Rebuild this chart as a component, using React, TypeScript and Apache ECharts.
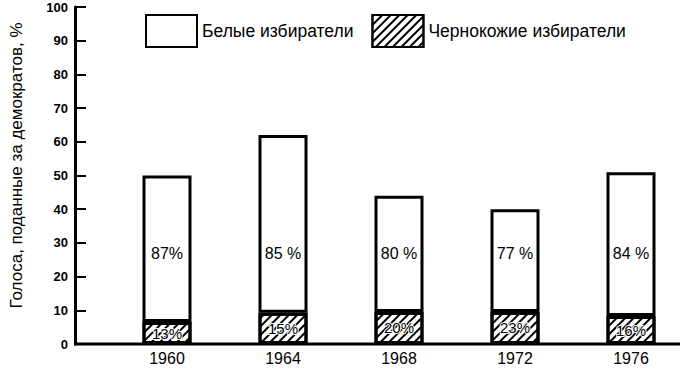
import React, { useEffect, useRef } from "react";
import * as echarts from "echarts";

const years = ["1960", "1964", "1968", "1972", "1976"];
const blackVotes = [6.5, 9.3, 9.5, 9.5, 8.3];
const whiteVotes = [43.5, 52.7, 34.5, 30.5, 42.7];
const whiteShare = ["87%", "85 %", "80 %", "77 %", "84 %"];
const blackShare = ["13%", "15%", "20%", "23%", "16%"];
const whiteLabelLevel = [27, 27, 27, 27, 27];
const seriesNames = ["Белые избиратели", "Чернокожие избиратели"];
const yAxisTitle = "Голоса, поданные за демократов, %";

const FONT = "Liberation Sans, Arial, sans-serif";

export default function App() {
  const ref = useRef<HTMLDivElement>(null);
  useEffect(() => {
    document.body.style.margin = "0";
    const chart = echarts.init(ref.current!, null, { renderer: "svg" });
    chart.setOption({
      animation: false,
      backgroundColor: "#fff",
      textStyle: { fontFamily: FONT, color: "#000" },
      grid: { left: 109, right: 0, top: 7, bottom: 29 },
      legend: {
        data: seriesNames,
        left: 140,
        top: 9,
        icon: "rect",
        itemWidth: 51,
        itemHeight: 32,
        itemGap: 18,
        textStyle: { fontSize: 17.5, color: "#000", fontFamily: FONT },
        selectedMode: false,
      },
      xAxis: {
        type: "category",
        data: years,
        axisLine: { show: false },
        axisTick: { show: false },
        axisLabel: { fontSize: 16, color: "#000", margin: 6, fontFamily: FONT },
      },
      yAxis: {
        type: "value",
        min: 0,
        max: 100,
        interval: 10,
        offset: 34,
        name: yAxisTitle,
        nameLocation: "middle",
        nameGap: 50,
        nameTextStyle: { fontSize: 17, color: "#000", fontFamily: FONT, padding: [0, 0, 0, 20] },
        axisLine: { show: true, lineStyle: { color: "#000", width: 3 } },
        axisTick: { show: true, inside: true, length: 11, lineStyle: { color: "#000", width: 2 } },
        axisLabel: { fontSize: 13, fontWeight: "bold", color: "#000", margin: 7, fontFamily: FONT },
        splitLine: { show: false },
      },
      graphic: [
        {
          type: "line",
          shape: { x1: 74, y1: 344, x2: 680, y2: 344 },
          style: { stroke: "#000", lineWidth: 3 },
          z: 100,
        },
      ],
      series: [
        {
          name: seriesNames[1],
          type: "bar",
          stack: "v",
          barWidth: 49,
          data: blackVotes,
          itemStyle: {
            color: "#fff",
            borderColor: "#000",
            borderWidth: 3,
            decal: {
              symbol: "rect",
              symbolSize: 1,
              color: "#000",
              dashArrayX: [1, 0],
              dashArrayY: [2, 4],
              rotation: -Math.PI / 4,
            },
          },
          label: {
            show: true,
            position: "inside",
            formatter: (p: any) => blackShare[p.dataIndex],
            fontSize: 15,
            color: "#000",
            textBorderColor: "#fff",
            textBorderWidth: 2,
            fontFamily: FONT,
          },
        },
        {
          name: seriesNames[0],
          type: "bar",
          stack: "v",
          barWidth: 49,
          data: whiteVotes,
          itemStyle: { color: "#fff", borderColor: "#000", borderWidth: 3 },
        },
        {
          type: "scatter",
          data: whiteLabelLevel,
          symbolSize: 0,
          silent: true,
          z: 10,
          itemStyle: { opacity: 1 },
          label: {
            show: true,
            position: "inside",
            formatter: (p: any) => whiteShare[p.dataIndex],
            fontSize: 16,
            color: "#000",
            opacity: 1,
            fontFamily: FONT,
          },
        },
      ],
    });
    return () => chart.dispose();
  }, []);
  return <div ref={ref} style={{ position: "absolute", left: 0, top: 0, width: 689, height: 373 }} />;
}
